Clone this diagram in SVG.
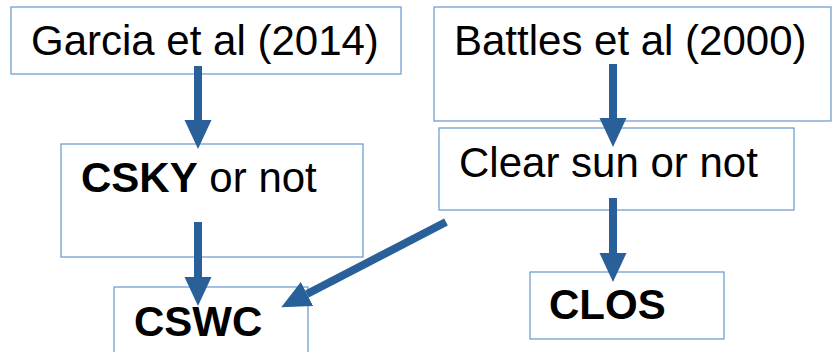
<svg xmlns="http://www.w3.org/2000/svg" width="832" height="352" viewBox="0 0 832 352">
<style>
.box{fill:#ffffff;stroke:#729fcf;stroke-width:1.3}
.t{font-family:"Liberation Sans",Arial,sans-serif;font-size:42px;fill:#000000}
.b{font-weight:bold}
.c{stroke:#2a6099;stroke-width:8;fill:none}
</style>
<defs>
<marker id="ah" markerUnits="userSpaceOnUse" markerWidth="30" markerHeight="28" refX="0" refY="14" orient="auto">
<path d="M0,0.5 L29,14 L0,27.5 z" fill="#2a6099"/>
</marker>
</defs>
<rect width="832" height="352" fill="#ffffff"/>
<g id="garcia"><rect class="box" x="11" y="7" width="390" height="67"/><text class="t" x="31" y="55">Garcia et al (2014)</text></g>
<g id="battles"><rect class="box" x="434" y="7" width="397" height="114"/><text class="t" x="454" y="55">Battles et al (2000)</text></g>
<g id="csky"><rect class="box" x="61" y="144" width="302" height="113"/><text class="t" x="81" y="192"><tspan class="b">CSKY</tspan> or not</text></g>
<g id="clearsun"><rect class="box" x="439" y="128" width="355" height="82"/><text class="t" x="459" y="177">Clear sun or not</text></g>
<g id="cswc"><rect class="box" x="114" y="287" width="194" height="80"/><text class="t b" x="134" y="336">CSWC</text></g>
<g id="clos"><rect class="box" x="530" y="272" width="194" height="67"/><text class="t b" x="549" y="319">CLOS</text></g>
<g id="connectors">
<line class="c" x1="198" y1="66" x2="198" y2="120" marker-end="url(#ah)"/>
<line class="c" x1="198" y1="222" x2="198" y2="277" marker-end="url(#ah)"/>
<line class="c" x1="613" y1="64" x2="613" y2="118" marker-end="url(#ah)"/>
<line class="c" x1="613" y1="198" x2="613" y2="253" marker-end="url(#ah)"/>
<line class="c" x1="446" y1="222" x2="307" y2="294" marker-end="url(#ah)"/>
</g>
</svg>
